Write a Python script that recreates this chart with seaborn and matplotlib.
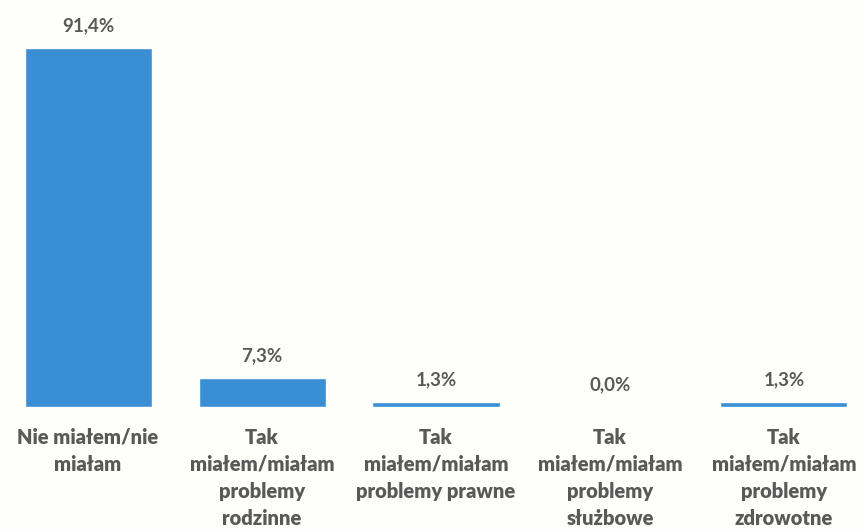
import matplotlib
matplotlib.use('Agg')
import matplotlib.pyplot as plt
import seaborn as sns
import pandas as pd

# dane z wykresu
kategorie = ['Nie miałem/nie\nmiałam',
             'Tak\nmiałem/miałam\nproblemy\nrodzinne',
             'Tak\nmiałem/miałam\nproblemy prawne',
             'Tak\nmiałem/miałam\nproblemy\nsłużbowe',
             'Tak\nmiałem/miałam\nproblemy\nzdrowotne']
procenty = [91.4, 7.3, 1.3, 0.0, 1.3]
etykiety = ['91,4%', '7,3%', '1,3%', '0,0%', '1,3%']

sns.set_style('white')
plt.rcParams['font.family'] = ['Lato', 'DejaVu Sans']

df = pd.DataFrame({'kat': kategorie, 'proc': procenty})

fig = plt.figure(figsize=(8.64, 5.3), dpi=100)
fig.patch.set_facecolor('#fefefb')
ax = fig.add_axes([0, 0.232, 1, 0.768])
ax.set_facecolor('#fefefb')

sns.barplot(data=df, x='kat', y='proc', color='#3a8fd4', saturation=1,
            width=0.73, ax=ax)

for i, (v, t) in enumerate(zip(procenty, etykiety)):
    ax.annotate(t, (i, v), xytext=(0, 10), textcoords='offset points',
                ha='center', va='bottom', fontsize=13.5, fontweight='bold',
                color='#595959')

ax.set_xlim(-0.506, 4.46)
ax.set_ylim(0, 103.6)
ax.set_xlabel('')
ax.set_ylabel('')
ax.set_yticks([])
ax.tick_params(axis='x', length=0, pad=15)
for lab in ax.get_xticklabels():
    lab.set_fontsize(14.5)
    lab.set_fontweight('heavy')
    lab.set_color('#595959')
    lab.set_linespacing(1.5)
sns.despine(left=True, bottom=True)

fig.savefig('out.png', dpi=100, facecolor=fig.get_facecolor())
